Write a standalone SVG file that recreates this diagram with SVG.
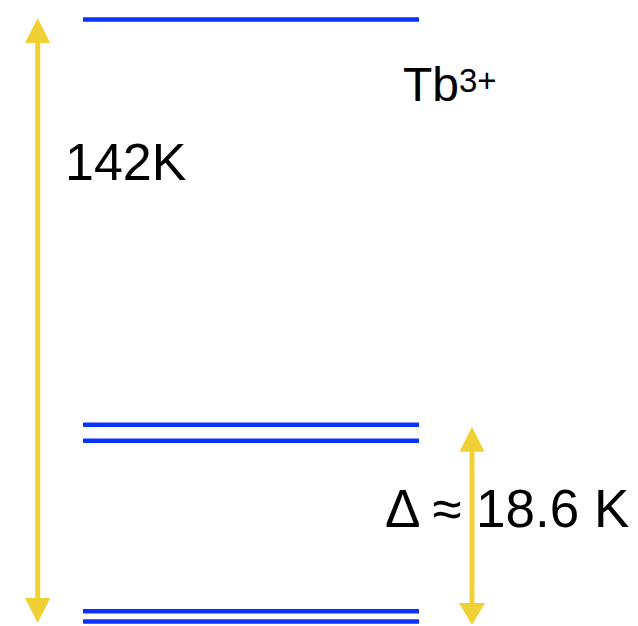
<svg xmlns="http://www.w3.org/2000/svg" width="638" height="626" viewBox="0 0 638 626">
<style>
.lvl{stroke:#0A32FF;stroke-width:4.5;fill:none}
.shaft{stroke:#F0D035;stroke-width:5;fill:none}
.head{fill:#F0D035}
.t{font-family:"Liberation Sans",Arial,sans-serif;fill:#000}
</style>
<rect width="638" height="626" fill="#fff"/>
<g id="level-top"><line class="lvl" x1="83" y1="19.5" x2="419" y2="19.5"/></g>
<g id="level-mid"><line class="lvl" x1="83" y1="424.7" x2="419" y2="424.7"/><line class="lvl" x1="83" y1="440.7" x2="419" y2="440.7"/></g>
<g id="level-bottom"><line class="lvl" x1="83" y1="611.3" x2="419" y2="611.3"/><line class="lvl" x1="83" y1="621.5" x2="419" y2="621.5"/></g>
<g id="connectors">
<g id="arrow-142K">
<line class="shaft" x1="37.7" y1="40" x2="37.7" y2="600"/>
<polygon class="head" points="37.7,18.3 25,43 50.3,43"/>
<polygon class="head" points="37.7,623 25,598 50.3,598"/>
</g>
<g id="arrow-delta">
<line class="shaft" x1="472" y1="450" x2="472" y2="605"/>
<polygon class="head" points="472,426.7 459.5,451.7 484.5,451.7"/>
<polygon class="head" points="472,625 459,603 485,603"/>
</g>
</g>
<g id="label-142K"><text class="t" x="65" y="180" font-size="52">142K</text></g>
<g id="label-Tb"><text class="t" x="403" y="101" font-size="48">Tb<tspan font-size="33" dy="-9">3+</tspan></text></g>
<g id="label-delta"><text class="t" x="385" y="526.7" font-size="53">Δ ≈ 18.6 K</text></g>
</svg>
